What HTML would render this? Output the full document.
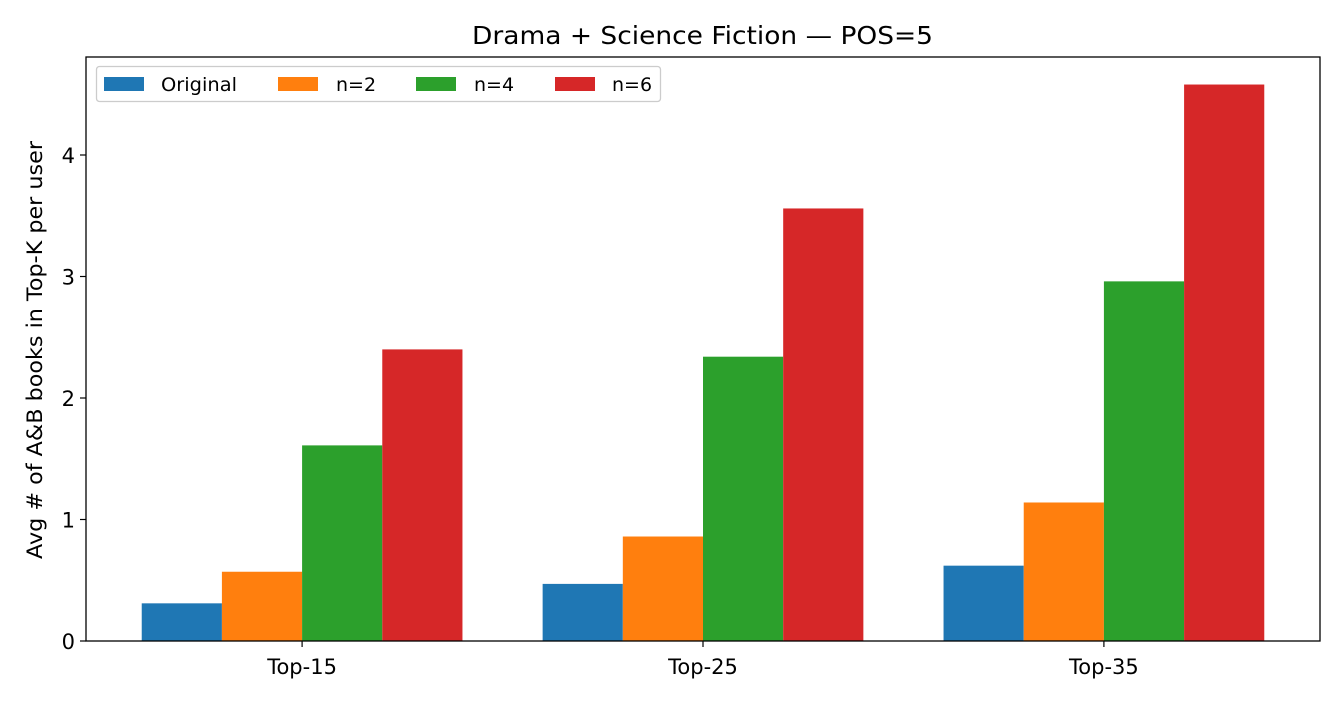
<!DOCTYPE html>
<html><head><meta charset="utf-8"><style>
html,body{margin:0;padding:0;background:#fff;}
svg{display:block;font-family:"DejaVu Sans","Liberation Sans",sans-serif;}
</style></head><body>
<svg id="chart" width="1344" height="704" viewBox="0 0 1344 704">
<text x="472" y="44" font-size="25" textLength="461" lengthAdjust="spacingAndGlyphs" fill="#000">Drama + Science Fiction — POS=5</text>
<g id="bars"></g>
<g id="axes"></g>
<text transform="translate(42,350) rotate(-90)" text-anchor="middle" font-size="21" textLength="418" lengthAdjust="spacingAndGlyphs" fill="#000">Avg # of A&amp;B books in Top-K per user</text>
<g id="legend"></g>
</svg>
<script>
const categories = ["Top-15","Top-25","Top-35"];
const seriesNames = ["Original","n=2","n=4","n=6"];
const original = [0.31,0.47,0.62];
const n2 = [0.57,0.86,1.14];
const n4 = [1.61,2.34,2.96];
const n6 = [2.40,3.56,4.58];
const yTicks = [0,1,2,3,4];

const series = [original,n2,n4,n6];
const colors = ["#1f77b4","#ff7f0e","#2ca02c","#d62728"];
const NS="http://www.w3.org/2000/svg";
const L=86,R=1320,T=57,B=641;
const xMin=-0.539,xMax=2.539,yMax=(B-T)/121.5;
const xs=v=>L+(v-xMin)/(xMax-xMin)*(R-L);
const ys=v=>B-v/yMax*(B-T);
function mk(tag,attrs,parent){const e=document.createElementNS(NS,tag);for(const k in attrs)e.setAttribute(k,attrs[k]);parent.appendChild(e);return e;}
const bars=document.getElementById('bars'),axes=document.getElementById('axes'),leg=document.getElementById('legend');
const w=0.2;
series.forEach((s,si)=>{s.forEach((v,ci)=>{
  const x0=xs(ci+(si-1.5)*w-w/2),x1=xs(ci+(si-1.5)*w+w/2);
  const r=mk('rect',{x:x0,y:ys(v),width:x1-x0,height:ys(0)-ys(v),fill:colors[si]},bars);
  
  
});});
mk('rect',{x:L,y:T,width:R-L,height:B-T,fill:'none',stroke:'#000','stroke-width':1.3},axes);
yTicks.forEach(t=>{
  const y=ys(t);
  mk('line',{x1:L-6,x2:L,y1:y,y2:y,stroke:'#000','stroke-width':1.2},axes);
  const tx=mk('text',{x:L-11,y:y+8,'text-anchor':'end','font-size':21},axes);
  tx.textContent=t;
  
  
});
categories.forEach((c,i)=>{
  const x=xs(i);
  mk('line',{x1:x,x2:x,y1:B,y2:B+6,stroke:'#000','stroke-width':1.2},axes);
  const tx=mk('text',{x:x,y:B+33,'text-anchor':'middle','font-size':21},axes);
  tx.textContent=c;
  
  
});
mk('rect',{x:96.5,y:66.5,width:564,height:35,rx:3,fill:'#fff','fill-opacity':0.8,stroke:'#ccc','stroke-width':1.3},leg);
const lxs=[104,278,416,555];
const txs=[161,336,474,612];
seriesNames.forEach((n,i)=>{
  const g=mk('g',{},leg);
  
  
  mk('rect',{x:lxs[i],y:77,width:40,height:14,fill:colors[i]},g);
  const t=mk('text',{x:txs[i],y:91,'font-size':19},g);
  if(i===0){t.setAttribute('textLength',76);t.setAttribute('lengthAdjust','spacingAndGlyphs');}
  t.textContent=n;
});
</script>
</body></html>
